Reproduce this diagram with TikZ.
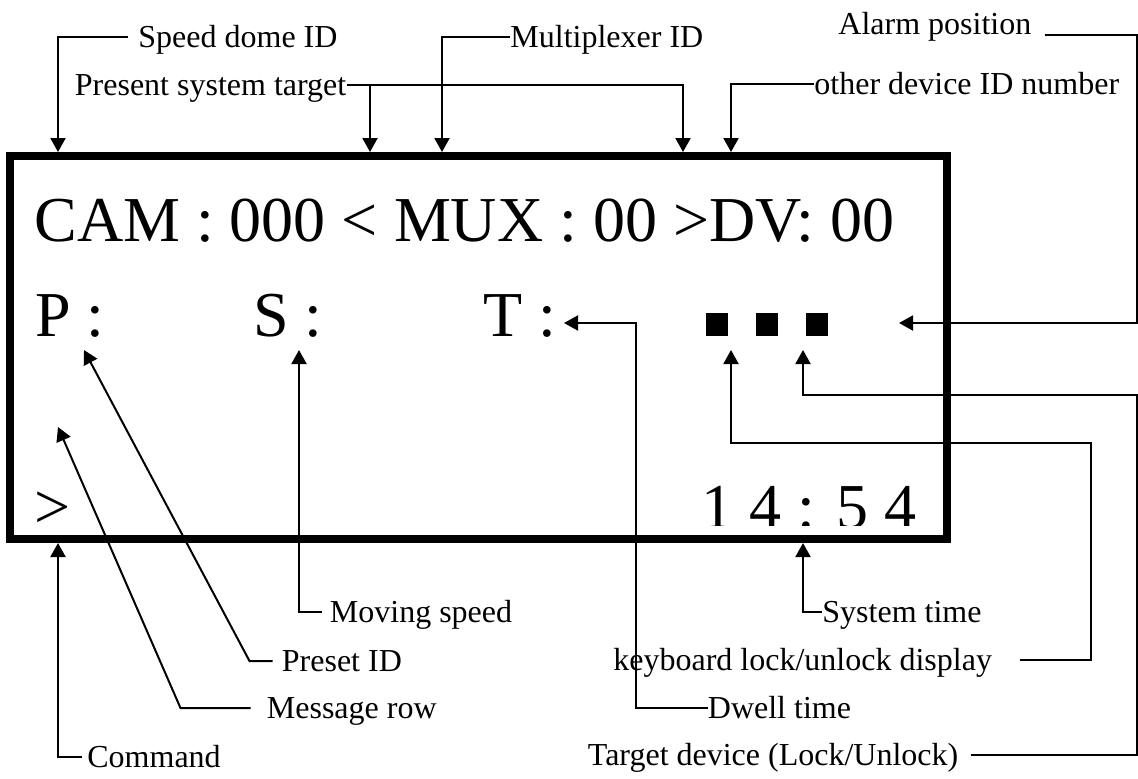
\documentclass[tikz,border=0pt]{standalone}
\usepackage{fontspec}
\setmainfont{Liberation Serif}
\usetikzlibrary{arrows.meta}

\tikzset{
	lcd/.style={font=\fontsize{32}{38}\selectfont, inner sep=0pt, anchor=base west},
	lbl/.style={font=\fontsize{16}{19}\selectfont, inner sep=0pt, anchor=west, text height=10.6pt, text depth=0pt},
	arr/.style={line width=1pt, -{Triangle[length=7pt, width=7.5pt]}},
	pixel/.style={fill=black, inner sep=0pt, minimum width=11pt, minimum height=11.5pt, anchor=south west}
}

\begin{document}
\begin{tikzpicture}[x=0.5pt, y=-0.5pt]
	\useasboundingbox (0,0) rectangle (1138,778); % Rand um Grafik
	
	\draw[line width=4pt] (10,155.5) rectangle (947,538.5); % Display
	
	% Anzeige
	\node[lcd] (camrow) at (34,241) {CAM : 000 < MUX : 00 >DV: 00};
	\node[lcd] (pfield) at (35,336) {P :};
	\node[lcd] (sfield) at (253,336) {S :};
	\node[lcd] (tfield) at (483,336) {T :};
	\node[pixel] (sqA) at (706,336) {};
	\node[pixel] (sqB) at (756,336) {};
	\node[pixel] (sqC) at (806,336) {};
	\node[lcd] (prompt) at (34,528) {>};
	\begin{scope}
		\clip (600,165) rectangle (940,525); % Uhrzeit unten abgeschnitten
		\node[lcd] (clock) at (701,528) {1 4 : 5 4};
	\end{scope}
	
	% Beschriftungen
	\node[lbl] (speedlbl) at (138,36.5) {Speed dome ID};
	\node[lbl] (muxlbl) at (510,36.5) {Multiplexer ID};
	\node[lbl] (targetlbl) at (74.5,85) {Present system target};
	\node[lbl] (devlbl) at (814,83.5) {other device ID number};
	\node[lbl] (alarmlbl) at (838,24) {Alarm position};
	\node[lbl] (movinglbl) at (329.5,612) {Moving speed};
	\node[lbl] (presetlbl) at (281.5,661) {Preset ID};
	\node[lbl] (msglbl) at (266.5,708) {Message row};
	\node[lbl] (cmdlbl) at (87,757) {Command};
	\node[lbl] (timelbl) at (822,612) {System time};
	\node[lbl] (kbdlbl) at (613,660) {keyboard lock/unlock display};
	\node[lbl] (dwelllbl) at (707.5,708) {Dwell time};
	\node[lbl] (devicelbl) at (587.5,755) {Target device (Lock/Unlock)};
	
	% Pfeilspitzen
	\coordinate (idCam) at (58,152);
	\coordinate (idTargetA) at (370,152);
	\coordinate (idMux) at (442,152);
	\coordinate (idTargetB) at (683,152);
	\coordinate (idDv) at (731,152);
	\coordinate (alarmHit) at (899,323);
	\coordinate (dwellHit) at (564,323);
	\coordinate (lockA) at (731,350);
	\coordinate (lockB) at (803,350);
	\coordinate (presetHit) at (84,350);
	\coordinate (speedHit) at (299,350);
	\coordinate (msgHit) at (58,427);
	\coordinate (cmdHit) at (58,543);
	\coordinate (clockHit) at (803,543);
	
	% oben
	\draw[arr] ([xshift=-5pt]speedlbl.west) -| (idCam);
	\draw[arr] (muxlbl.west) -| (idMux);
	\draw[arr] (targetlbl.east) -| (idTargetB);
	\draw[arr] (targetlbl.east -| idTargetA) -- (idTargetA);
	\draw[arr] (devlbl.west) -| (idDv);
	
	% rechts
	\draw[arr] ([xshift=6.5pt, yshift=-5.5pt]alarmlbl.east) -| (1136.5,323) -- (alarmHit);
	\draw[arr] ([xshift=14pt]kbdlbl.east) -| (1091,443) -| (lockA);
	\draw[arr] ([xshift=6pt]devicelbl.east) -| (1136.5,395) -| (lockB);
	
	% unten
	\draw[arr] (dwelllbl.west) -| (636,323) -- (dwellHit);
	\draw[arr] (timelbl.west) -| (clockHit);
	\draw[arr] ([xshift=-4pt]movinglbl.west) -| (speedHit);
	\draw[arr] ([xshift=-4.5pt]presetlbl.west) -- ++(-23,0) -- (presetHit);
	\draw[arr] ([xshift=-8pt]msglbl.west) -- ++(-70,0) -- (msgHit);
	\draw[arr] ([xshift=-2.5pt]cmdlbl.west) -| (cmdHit);
	
	%\draw[help lines, step=50] (0,0) grid (1138,778);
\end{tikzpicture}
\end{document}
